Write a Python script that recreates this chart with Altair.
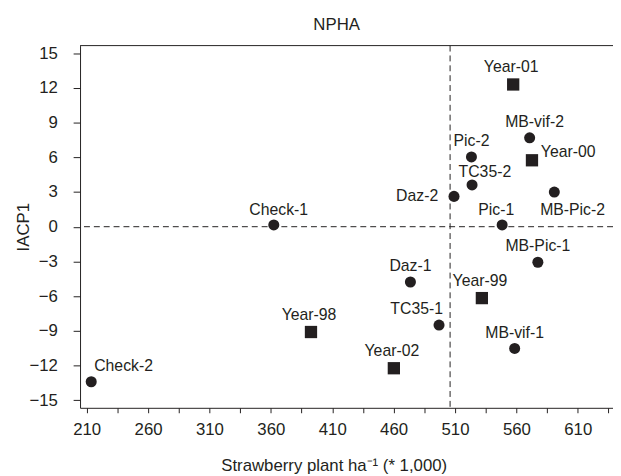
import altair as alt
import pandas as pd

# ---- data ----
names = ["Year-01", "MB-vif-2", "Pic-2", "Year-00", "TC35-2", "MB-Pic-2", "Daz-2",
         "Check-1", "Pic-1", "MB-Pic-1", "Daz-1", "Year-99", "TC35-1", "Year-98",
         "MB-vif-1", "Year-02", "Check-2"]
plants = [557.4, 570.8, 523.4, 572.7, 523.9, 590.9, 509.2, 362.4, 548.4, 577.5,
          473.7, 531.9, 497.0, 392.7, 558.6, 460.2, 213.7]
iacp1 = [12.29, 7.68, 6.03, 5.74, 3.61, 2.99, 2.62, 0.15, 0.15, -3.07, -4.78, -6.17,
         -8.5, -9.1, -10.52, -12.23, -13.4]
kinds = ["square", "circle", "circle", "square", "circle", "circle", "circle",
         "circle", "circle", "circle", "circle", "square", "circle", "square",
         "circle", "square", "circle"]
places = ["topsq", "top_r5", "top", "right", "top_r", "below", "left", "top_r5",
          "top_l6", "top", "top", "topsq", "top_l", "topsq", "top", "topsq", "corner"]

x_ticks = list(range(210, 636, 25))
y_ticks = list(range(-15, 16, 3))
x_ref = [506]
y_ref = [0]

# ---- styling ----
INK = "#231f20"
FONT = "Liberation Sans, Arial, Helvetica"
label_style = {
    "top": dict(align="center", dx=0, dy=-11),
    "topsq": dict(align="center", dx=-2, dy=-12.5),
    "top_r5": dict(align="center", dx=5, dy=-10.5),
    "top_l6": dict(align="center", dx=-6, dy=-10),
    "top_r": dict(align="center", dx=13, dy=-8),
    "top_l": dict(align="right", dx=4, dy=-11.5),
    "corner": dict(align="left", dx=3, dy=-11),
    "right": dict(align="left", dx=9, dy=-3.5),
    "below": dict(align="center", dx=18.5, dy=23),
    "left": dict(align="right", dx=-16, dy=5),
}

df = pd.DataFrame({"name": names, "plants": plants, "iacp1": iacp1,
                   "kind": kinds, "place": places})

xscale = alt.Scale(domain=[204.6, 638.7], nice=False, zero=False)
yscale = alt.Scale(domain=[-15.65, 15.65], nice=False, zero=False)

xaxis = alt.Axis(values=x_ticks,
                 labelExpr="(datum.value - 210) % 50 == 0 ? datum.label : ''",
                 tickSize=5, labelPadding=9, grid=False,
                 domainColor=INK, tickColor=INK, labelColor=INK, titleColor=INK,
                 labelFontSize=17, titleFontSize=17, titleFontWeight="normal",
                 titleX=257, titleY=64, titleBaseline="alphabetic",
                 labelFlush=False, labelOverlap=False)
yaxis = alt.Axis(values=y_ticks, tickSize=7, labelPadding=16, grid=False,
                 domainColor=INK, tickColor=INK, labelColor=INK, titleColor=INK,
                 labelFontSize=17, titleFontSize=17, titleFontWeight="normal",
                 titleX=-57, titleY=183.5, titleBaseline="middle",
                 labelFlush=False, labelOverlap=False)

x_enc = alt.X("plants:Q", scale=xscale, axis=xaxis,
              title="Strawberry plant ha\u207b\u00b9 (* 1,000)")
y_enc = alt.Y("iacp1:Q", scale=yscale, axis=yaxis, title="IACP1")

base = alt.Chart(df)

vline = alt.Chart(pd.DataFrame({"plants": x_ref})).mark_rule(
    color=INK, strokeWidth=1, strokeDash=[6, 4]).encode(x=x_enc)
hline = alt.Chart(pd.DataFrame({"iacp1": y_ref})).mark_rule(
    color=INK, strokeWidth=1, strokeDash=[6, 4]).encode(y=y_enc)
top_frame = alt.Chart(pd.DataFrame({"plants": x_ref})).mark_rule(
    color=INK, strokeWidth=1).encode(
    y=alt.value(0), x=alt.value(0), x2=alt.value(545))

circles = base.transform_filter(alt.datum.kind == "circle").mark_circle(
    size=125, color=INK, opacity=1).encode(x=x_enc, y=y_enc)
squares = base.transform_filter(alt.datum.kind == "square").mark_square(
    size=155, color=INK, opacity=1).encode(x=x_enc, y=y_enc)

texts = []
for key, st in label_style.items():
    texts.append(
        base.transform_filter(alt.datum.place == key).mark_text(
            font=FONT, fontSize=16, color=INK, baseline="alphabetic", **st
        ).encode(x=x_enc, y=y_enc, text="name:N")
    )

chart = alt.layer(vline, hline, top_frame, circles, squares, *texts).properties(
    width=540, height=367,
    autosize=alt.AutoSizeParams(type="none"),
    padding={"left": 73, "top": 35, "right": 0, "bottom": 66},
    title=alt.TitleParams("NPHA", fontSize=17, fontWeight="normal", font=FONT,
                          color=INK, dx=-10, offset=10, anchor="middle"),
    background="white",
).configure_view(stroke="transparent").configure_axis(
    labelFont=FONT, titleFont=FONT
)

chart.save("out.html", embed_options={"renderer": "svg", "actions": False})
